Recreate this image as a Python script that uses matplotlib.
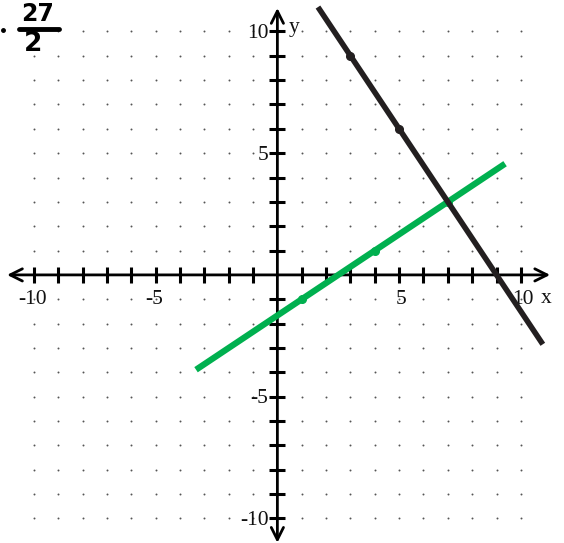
import numpy as np
import matplotlib
matplotlib.use("Agg")
import matplotlib.pyplot as plt

# ---- data ----
tick_values = [-10, -5, 5, 10]
x_tick_labels = ["-10", "-5", "5", "10"]
y_tick_labels = ["-10", "-5", "5", "10"]
grid_range = list(range(-10, 11))

black_slope = -1.5
black_intercept = 13.5
black_x_span = [1.667, 10.9]
black_points_x = [3, 5]
black_points_y = [9, 6]

green_slope = 2 / 3
green_intercept = -5 / 3
green_x_span = [-3.34, 9.35]
green_points_x = [1, 4, 7]
green_points_y = [-1, 1, 3]

annotation_num = "27"
annotation_den = "2"

BLACK = "#231f20"
GREEN = "#00b04f"

fig = plt.figure(figsize=(5.64, 5.43), dpi=100)
ax = fig.add_axes([0, 0, 1, 1])
ax.set_xlim(-11.39, 11.77)
ax.set_ylim(-11.01, 11.29)
ax.axis("off")

# dotted grid
gx, gy = np.meshgrid(grid_range, grid_range)
mask = (gx != 0) & (gy != 0)
ax.scatter(gx[mask], gy[mask], s=2.0, color="#555555", linewidths=0, zorder=1)

# axes with arrows
ax.annotate("", xy=(11.2, 0), xytext=(-11.1, 0),
            arrowprops=dict(arrowstyle="<->", lw=2, color="black",
                            mutation_scale=22, shrinkA=0, shrinkB=0), zorder=2)
ax.annotate("", xy=(0, 10.96), xytext=(0, -11.0),
            arrowprops=dict(arrowstyle="<->", lw=2, color="black",
                            mutation_scale=22, shrinkA=0, shrinkB=0), zorder=2)

ticks = [v for v in grid_range if v != 0]
ax.plot(ticks, [0] * len(ticks), linestyle="none", marker="|", markersize=11,
        mew=2.2, color="black", zorder=2)
ax.plot([0] * len(ticks), ticks, linestyle="none", marker="_", markersize=11,
        mew=2.2, color="black", zorder=2)

font = dict(family="Liberation Serif", fontsize=15.5, color="#111111")
for v, lab in zip(tick_values, x_tick_labels):
    ax.text(v + (-0.05 if v < 0 else 0.08), -1.02, lab, ha="center", va="center", **font)
for v, lab in zip(tick_values, y_tick_labels):
    ax.text(-0.36, v - 0.08, lab, ha="right", va="center", **font)
ax.text(11.05, -0.95, "x", ha="center", va="center", **font)
ax.text(0.68, 10.15, "y", ha="center", va="center", **font)

# lines
bx = np.array(black_x_span)
ax.plot(bx, black_slope * bx + black_intercept, color=BLACK, lw=4.0,
        solid_capstyle="butt", zorder=4)
ax.plot(black_points_x, black_points_y, "o", color=BLACK, ms=5.5, zorder=5)

gxs = np.array(green_x_span)
ax.plot(gxs, green_slope * gxs + green_intercept, color=GREEN, lw=4.5,
        solid_capstyle="butt", zorder=3)
ax.plot(green_points_x, green_points_y, "o", color=GREEN, ms=5.5, zorder=3)

# handwritten annotation
W, H = 564, 543
fig.text(38 / W, 1 - 14 / H, annotation_num, ha="center", va="center",
         fontsize=17, fontweight="heavy", family="DejaVu Sans", color="black")
fig.add_artist(plt.Line2D([19 / W, 59 / W], [1 - 29 / H, 1 - 29 / H],
                          color="black", lw=3.5, solid_capstyle="round"))
fig.text(33 / W, 1 - 44 / H, annotation_den, ha="center", va="center",
         fontsize=19, fontweight="heavy", family="DejaVu Sans", color="black")
fig.add_artist(plt.Line2D([3 / W], [1 - 30 / H], marker="o", ms=2.5,
                          color="black", linestyle="none"))

fig.savefig("out.png", dpi=100)
